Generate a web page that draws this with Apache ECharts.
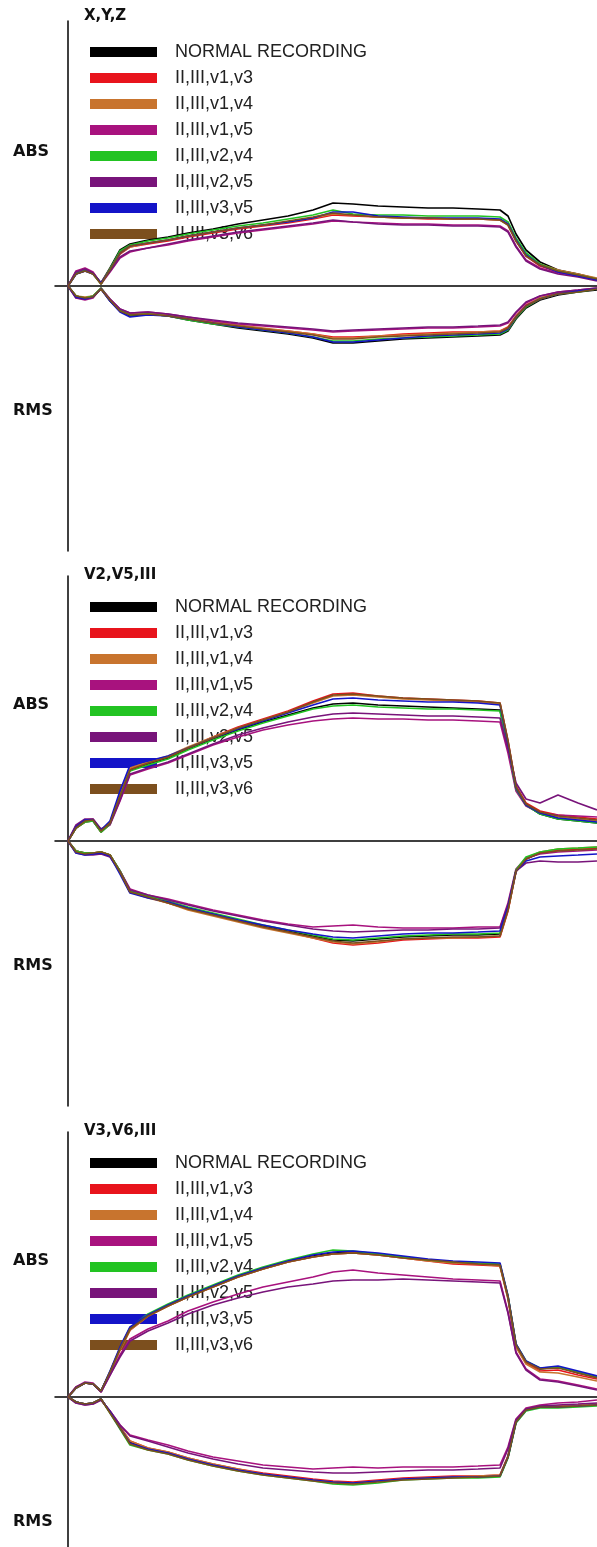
<!DOCTYPE html>
<html>
<head>
<meta charset="utf-8">
<script src="https://cdn.jsdelivr.net/npm/echarts@6/dist/echarts.min.js"></script>
<style>
html,body{margin:0;padding:0;background:#fff;}
#chart{width:597px;height:1547px;}
</style>
</head>
<body>
<div id="chart"></div>
<script>
// ---------- DATA ----------
const PANEL_TITLES = ['X,Y,Z', 'V2,V5,III', 'V3,V6,III'];
const SERIES_NAMES = ['NORMAL RECORDING', 'II,III,v1,v3', 'II,III,v1,v4', 'II,III,v1,v5', 'II,III,v2,v4', 'II,III,v2,v5', 'II,III,v3,v5', 'II,III,v3,v6'];
const SAMPLES = [0,8,17,25,33,42,52,62,80,100,120,145,170,195,220,245,265,285,310,335,360,385,410,432,440,448,458,472,490,510,529];

// Panel 1: X,Y,Z  (ABS above zero, RMS below)
const xyzAbsNormal = [0,12,15,13,3,18,36,42,46,49,53,57,62,66,70,76,83,82,80,79,78,78,77,76,70,52,36,24,16,12,7];
const xyzAbsV1V3   = [0,14,17,13,2,16,32,39,42,45,49,53,57,60,63,67,71,70,69,68,67,67,67,66,62,46,30,20,14,11,6];
const xyzAbsV1V4   = [0,13,16,12,3,17,33,39,43,46,50,54,58,61,64,68,72,71,69,68,68,67,67,66,61,45,31,22,16,12,8];
const xyzAbsV1V5   = [0,15,18,14,2,14,28,34,38,41,45,49,53,56,59,62,65,64,63,62,62,61,61,60,55,40,26,18,13,10,6];
const xyzAbsV2V4   = [0,13,16,12,2,17,35,41,45,48,52,56,60,63,67,71,76,72,71,71,70,70,70,69,64,48,33,22,15,11,7];
const xyzAbsV2V5   = [0,14,17,13,3,15,29,35,38,42,46,50,54,57,60,63,66,64,62,61,61,60,60,59,54,39,25,17,12,9,5];
const xyzAbsV3V5   = [0,12,15,12,3,16,33,40,43,46,50,54,58,61,64,68,74,74,70,69,68,68,68,67,62,46,31,21,14,10,6];
const xyzAbsV3V6   = [0,12,15,12,2,16,33,40,43,46,50,54,58,61,65,69,73,71,69,68,68,67,67,66,61,45,30,21,15,11,7];
const xyzRmsNormal = [0,-10,-12,-11,-3,-15,-25,-30,-28,-30,-34,-38,-42,-45,-48,-52,-57,-57,-55,-53,-52,-51,-50,-49,-45,-33,-22,-14,-9,-6,-4];
const xyzRmsV1V3   = [0,-11,-12,-10,-2,-14,-24,-28,-27,-29,-33,-36,-40,-43,-45,-48,-51,-51,-50,-48,-47,-46,-46,-45,-41,-30,-19,-12,-7,-5,-3];
const xyzRmsV1V4   = [0,-10,-11,-10,-3,-14,-24,-28,-27,-29,-32,-36,-39,-42,-45,-48,-52,-52,-50,-49,-48,-47,-46,-45,-42,-30,-20,-12,-8,-5,-3];
const xyzRmsV1V5   = [0,-12,-14,-12,-2,-13,-23,-27,-26,-28,-31,-35,-38,-40,-42,-44,-46,-45,-44,-43,-42,-42,-41,-40,-37,-27,-17,-10,-6,-4,-2];
const xyzRmsV2V4   = [0,-10,-12,-10,-2,-14,-24,-29,-28,-30,-34,-38,-41,-44,-47,-51,-55,-55,-53,-52,-51,-50,-49,-48,-44,-32,-21,-13,-8,-6,-3];
const xyzRmsV2V5   = [0,-12,-13,-11,-3,-13,-23,-27,-26,-28,-31,-34,-37,-39,-41,-43,-45,-44,-43,-42,-41,-41,-40,-39,-36,-26,-16,-10,-6,-4,-2];
const xyzRmsV3V5   = [0,-11,-13,-11,-3,-15,-26,-31,-29,-30,-33,-37,-41,-44,-47,-51,-56,-56,-54,-52,-50,-49,-48,-47,-43,-31,-20,-13,-8,-5,-3];
const xyzRmsV3V6   = [0,-10,-12,-11,-3,-14,-25,-29,-28,-30,-33,-37,-40,-43,-46,-49,-53,-53,-51,-50,-49,-48,-47,-46,-42,-31,-20,-13,-8,-6,-3];

// Panel 2: V2,V5,III
const v25AbsNormal = [0,13,19,20,9,17,44,71,77,83,92,102,111,119,126,133,137,138,136,135,134,133,132,131,96,52,36,27,22,20,18];
const v25AbsV1V3   = [0,14,20,21,10,18,45,72,78,84,93,104,114,122,130,140,147,148,145,143,142,141,140,138,100,55,38,30,26,24,22];
const v25AbsV1V4   = [0,13,19,21,9,19,46,73,79,85,94,104,113,121,129,138,145,146,144,142,141,140,139,137,99,54,36,28,24,22,20];
const v25AbsV1V5   = [0,15,21,22,11,16,40,66,72,78,86,96,104,111,116,120,122,123,122,122,121,121,120,119,88,50,35,28,26,25,24];
const v25AbsV2V4   = [0,13,19,20,9,17,43,70,76,82,91,101,110,118,125,132,135,136,134,133,132,132,131,130,95,52,36,27,22,20,18];
const v25AbsV2V5   = [0,16,22,22,12,17,41,67,73,79,87,97,106,113,119,124,127,128,127,126,125,125,124,123,92,58,42,38,46,38,31];
const v25AbsV3V5   = [0,14,21,21,11,20,50,76,80,85,93,103,112,120,128,136,142,143,141,140,139,139,138,136,98,53,36,28,23,21,19];
const v25AbsV3V6   = [0,13,20,21,10,18,45,71,78,84,93,103,113,121,129,139,146,147,145,143,142,141,140,138,100,54,37,29,25,23,21];
const v25RmsNormal = [0,-10,-12,-12,-11,-14,-30,-50,-55,-61,-67,-73,-79,-85,-90,-95,-99,-100,-98,-96,-95,-94,-94,-93,-68,-30,-18,-12,-9,-8,-7];
const v25RmsV1V3   = [0,-10,-12,-12,-11,-14,-31,-51,-56,-62,-68,-74,-80,-86,-91,-97,-102,-104,-102,-99,-98,-97,-97,-96,-70,-30,-18,-12,-9,-8,-7];
const v25RmsV1V4   = [0,-10,-13,-12,-11,-14,-31,-51,-57,-62,-69,-75,-81,-87,-92,-97,-101,-103,-101,-98,-97,-97,-96,-95,-69,-31,-17,-11,-8,-7,-6];
const v25RmsV1V5   = [0,-11,-13,-13,-12,-15,-30,-48,-54,-58,-63,-69,-74,-79,-83,-86,-85,-84,-86,-87,-87,-87,-86,-86,-62,-28,-17,-13,-11,-10,-9];
const v25RmsV2V4   = [0,-10,-12,-12,-11,-14,-30,-50,-55,-60,-66,-72,-78,-84,-89,-94,-98,-99,-97,-95,-94,-93,-93,-92,-67,-29,-16,-11,-8,-7,-6];
const v25RmsV2V5   = [0,-12,-14,-14,-13,-16,-31,-49,-54,-59,-64,-70,-75,-80,-84,-88,-90,-91,-90,-89,-89,-88,-88,-87,-64,-30,-22,-20,-21,-21,-20];
const v25RmsV3V5   = [0,-12,-14,-13,-12,-15,-33,-52,-57,-61,-67,-73,-79,-84,-89,-93,-96,-97,-95,-93,-92,-92,-91,-90,-66,-30,-20,-16,-15,-14,-13];
const v25RmsV3V6   = [0,-11,-13,-12,-11,-14,-31,-51,-56,-62,-68,-74,-80,-86,-91,-96,-100,-102,-100,-98,-97,-96,-96,-95,-69,-30,-18,-12,-10,-9,-8];

// Panel 3: V3,V6,III
const v36AbsNormal = [0,9,14,13,6,25,48,68,82,92,101,111,121,129,136,141,144,145,143,140,137,134,133,132,100,52,35,28,30,24,20];
const v36AbsV1V3   = [0,9,14,13,6,24,47,67,81,91,100,110,120,128,135,140,143,144,142,139,136,133,132,131,99,51,34,26,27,22,18];
const v36AbsV1V4   = [0,10,14,13,5,24,47,67,81,91,100,110,120,128,135,140,143,144,142,139,136,134,133,131,98,50,33,25,24,20,16];
const v36AbsV1V5   = [0,10,15,14,5,22,42,58,68,76,86,95,103,110,115,120,125,127,124,122,120,118,117,116,85,45,28,18,16,12,8];
const v36AbsV2V4   = [0,9,14,13,6,25,49,69,83,93,102,112,122,130,137,143,147,146,143,140,137,135,134,133,101,53,36,29,30,25,20];
const v36AbsV2V5   = [0,10,14,13,5,22,40,56,66,74,83,92,99,105,110,113,116,117,117,118,117,116,115,114,84,44,27,17,15,11,7];
const v36AbsV3V5   = [0,9,14,13,6,26,50,70,82,92,101,111,121,129,136,142,145,146,144,141,138,136,135,134,101,53,36,29,31,26,21];
const v36AbsV3V6   = [0,9,14,13,6,25,48,68,81,91,100,110,120,128,135,140,143,144,142,139,137,135,133,132,100,52,35,28,29,24,19];
const v36RmsNormal = [0,-5,-7,-6,-2,-15,-30,-45,-52,-56,-62,-68,-73,-77,-80,-83,-85,-86,-84,-82,-81,-80,-80,-79,-60,-25,-13,-10,-10,-9,-8];
const v36RmsV1V3   = [0,-5,-7,-6,-2,-15,-30,-44,-51,-55,-61,-67,-72,-76,-79,-82,-84,-85,-83,-81,-80,-79,-79,-78,-59,-24,-12,-9,-9,-8,-7];
const v36RmsV1V4   = [0,-5,-7,-6,-2,-15,-30,-44,-51,-55,-61,-67,-72,-77,-80,-83,-85,-86,-84,-82,-81,-80,-79,-78,-59,-24,-12,-9,-9,-8,-7];
const v36RmsV1V5   = [0,-6,-8,-7,-3,-14,-28,-38,-43,-48,-54,-60,-64,-68,-70,-72,-71,-70,-71,-70,-70,-70,-69,-68,-50,-22,-11,-8,-6,-5,-3];
const v36RmsV2V4   = [0,-5,-7,-6,-2,-16,-32,-48,-53,-57,-63,-69,-74,-78,-81,-84,-87,-88,-86,-83,-82,-81,-81,-80,-61,-26,-14,-11,-11,-10,-9];
const v36RmsV2V5   = [0,-6,-8,-7,-3,-14,-28,-39,-44,-50,-56,-62,-67,-71,-73,-75,-76,-76,-75,-74,-73,-73,-72,-71,-52,-23,-12,-9,-8,-7,-6];
const v36RmsV3V5   = [0,-5,-7,-6,-2,-15,-31,-46,-52,-56,-62,-68,-73,-77,-80,-83,-85,-86,-84,-82,-81,-80,-80,-79,-60,-25,-13,-10,-10,-9,-8];
const v36RmsV3V6   = [0,-5,-7,-6,-2,-16,-31,-47,-53,-57,-63,-69,-74,-78,-81,-84,-86,-87,-85,-83,-82,-81,-80,-79,-60,-25,-13,-10,-10,-9,-8];

const PANELS = [
  { abs: [xyzAbsNormal, xyzAbsV1V3, xyzAbsV1V4, xyzAbsV1V5, xyzAbsV2V4, xyzAbsV2V5, xyzAbsV3V5, xyzAbsV3V6],
    rms: [xyzRmsNormal, xyzRmsV1V3, xyzRmsV1V4, xyzRmsV1V5, xyzRmsV2V4, xyzRmsV2V5, xyzRmsV3V5, xyzRmsV3V6] },
  { abs: [v25AbsNormal, v25AbsV1V3, v25AbsV1V4, v25AbsV1V5, v25AbsV2V4, v25AbsV2V5, v25AbsV3V5, v25AbsV3V6],
    rms: [v25RmsNormal, v25RmsV1V3, v25RmsV1V4, v25RmsV1V5, v25RmsV2V4, v25RmsV2V5, v25RmsV3V5, v25RmsV3V6] },
  { abs: [v36AbsNormal, v36AbsV1V3, v36AbsV1V4, v36AbsV1V5, v36AbsV2V4, v36AbsV2V5, v36AbsV3V5, v36AbsV3V6],
    rms: [v36RmsNormal, v36RmsV1V3, v36RmsV1V4, v36RmsV1V5, v36RmsV2V4, v36RmsV2V5, v36RmsV3V5, v36RmsV3V6] }
];

// ---------- STYLE ----------
const COLORS = ['#000000', '#e8141c', '#c8742e', '#a8127e', '#22c322', '#78147a', '#1414c8', '#7c4f1e'];
const GRID_LAYOUT = [
  { top: 21, height: 530, yMin: -265, yMax: 265 },
  { top: 576, height: 530, yMin: -265, yMax: 265 },
  { top: 1132, height: 415, yMin: -150, yMax: 265 }
];
const LEGEND_TOPS = [37, 592, 1148];
const TITLE_Y = [18, 577, 1133];
const ABS_Y = [153, 706, 1262];
const RMS_Y = [412, 967, 1523];

const chart = echarts.init(document.getElementById('chart'), null, { renderer: 'canvas' });

const grids = [], xAxes = [], yAxes = [], legends = [], series = [], graphics = [];
GRID_LAYOUT.forEach((g, p) => {
  grids.push({ left: 55, right: 0, top: g.top, height: g.height });
  xAxes.push({
    type: 'value', gridIndex: p, min: -13, max: 529,
    axisLine: { show: true, onZero: true, lineStyle: { color: '#000', width: 1.5 } },
    axisTick: { show: false }, axisLabel: { show: false }, splitLine: { show: false }
  });
  yAxes.push({
    type: 'value', gridIndex: p, min: g.yMin, max: g.yMax,
    axisLine: { show: true, onZero: true, lineStyle: { color: '#000', width: 1.5 } },
    axisTick: { show: false }, axisLabel: { show: false }, splitLine: { show: false }
  });
  legends.push({
    orient: 'vertical', left: 85, top: LEGEND_TOPS[p], z: 1,
    icon: 'rect', itemWidth: 67, itemHeight: 10, itemGap: 6,
    data: SERIES_NAMES.slice(),
    selectedMode: false,
    textStyle: { color: '#222', fontSize: 18, fontFamily: '"Liberation Sans", Arial, sans-serif', lineHeight: 16, padding: [4, 0, 0, 13] }
  });
  SERIES_NAMES.forEach((name, i) => {
    ['abs', 'rms'].forEach(kind => {
      series.push({
        type: 'line', name: name, xAxisIndex: p, yAxisIndex: p, z: 3,
        color: COLORS[i],
        showSymbol: false, symbol: 'none', silent: true, animation: false,
        lineStyle: { color: COLORS[i], width: 1.7 },
        itemStyle: { color: COLORS[i] },
        data: SAMPLES.map((x, k) => [x, PANELS[p][kind][i][k]])
      });
    });
  });
  graphics.push({
    type: 'text', left: 84, top: TITLE_Y[p] - 9,
    style: { text: PANEL_TITLES[p], font: 'bold 15px "DejaVu Sans", sans-serif', fill: '#111' }
  });
  graphics.push({
    type: 'text', left: 13, top: ABS_Y[p] - 9,
    style: { text: 'ABS', font: 'bold 16px "DejaVu Sans", sans-serif', fill: '#111' }
  });
  graphics.push({
    type: 'text', left: 13, top: RMS_Y[p] - 9,
    style: { text: 'RMS', font: 'bold 16px "DejaVu Sans", sans-serif', fill: '#111' }
  });
});

chart.setOption({
  animation: false,
  backgroundColor: '#fff',
  grid: grids, xAxis: xAxes, yAxis: yAxes, legend: legends,
  series: series, graphic: graphics
});
</script>
</body>
</html>
